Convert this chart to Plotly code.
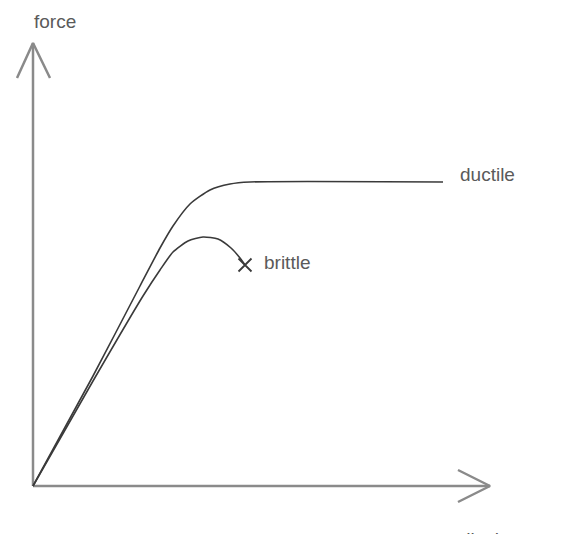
import plotly.graph_objects as go

# ------------------------------------------------------------------
# DATA: sketch of force vs displacement (arbitrary units, origin at 0,0)
# ------------------------------------------------------------------
ductile_disp = [0, 60, 107, 127, 140, 157, 177, 197, 217, 410]
ductile_force = [0, 110, 200, 238, 260, 282, 296, 302, 304, 304]

brittle_disp = [0, 60, 110, 127, 140, 155, 170, 185, 198, 207, 212]
brittle_force = [0, 105, 190, 216, 234, 245, 249, 247, 238, 228, 221]

# axis extents (arrow tip positions)
x_axis_end = 457
y_axis_end = 443
arrow_len = 32
arrow_half = 16

labels = ["ductile", "brittle", "force", "displacement"]

AXIS_COLOR = "#8a8a8a"
CURVE_COLOR = "#3a3a3a"
TEXT_COLOR = "#5a5a5a"
FONT = dict(family="Liberation Sans, Arial, sans-serif", size=19, color=TEXT_COLOR)

fig = go.Figure()

# ---------- axes drawn as open arrows ----------
fig.add_trace(go.Scatter(
    x=[0, x_axis_end, None, x_axis_end - arrow_len, x_axis_end, x_axis_end - arrow_len],
    y=[0, 0, None, arrow_half, 0, -arrow_half],
    mode="lines", line=dict(color=AXIS_COLOR, width=2.5), hoverinfo="skip"))
fig.add_trace(go.Scatter(
    x=[0, 0, None, -arrow_half, 0, arrow_half + 1],
    y=[0, y_axis_end, None, y_axis_end - 35, y_axis_end, y_axis_end - 35],
    mode="lines", line=dict(color=AXIS_COLOR, width=2.5), hoverinfo="skip"))

# ---------- curves ----------
fig.add_trace(go.Scatter(x=ductile_disp, y=ductile_force, mode="lines",
                         line=dict(color=CURVE_COLOR, width=1.6, shape="spline", smoothing=0.6),
                         name="ductile"))
fig.add_trace(go.Scatter(x=brittle_disp, y=brittle_force, mode="lines",
                         line=dict(color=CURVE_COLOR, width=1.6, shape="spline", smoothing=0.6),
                         name="brittle"))
# fracture point
fig.add_trace(go.Scatter(x=[brittle_disp[-1]], y=[brittle_force[-1]], mode="markers",
                         marker=dict(symbol="x-thin-open", size=13, color=CURVE_COLOR,
                                     line=dict(color=CURVE_COLOR, width=1.8))))

# ---------- labels ----------
fig.add_annotation(x=ductile_disp[-1] + 15, y=ductile_force[-1] + 8, text=labels[0],
                   xanchor="left", yanchor="middle", showarrow=False, font=FONT)
fig.add_annotation(x=brittle_disp[-1] + 17, y=brittle_force[-1] + 3, text=labels[1],
                   xanchor="left", yanchor="middle", showarrow=False, font=FONT)
fig.add_annotation(x=22, y=y_axis_end + 22, text=labels[2],
                   xanchor="center", yanchor="middle", showarrow=False, font=FONT)
fig.add_annotation(x=x_axis_end - 32, y=-41, text=labels[3],
                   xanchor="left", yanchor="top", showarrow=False, font=FONT)

# page body has an 8px margin, so the figure is 8px smaller and ranges shifted
fig.update_layout(
    width=575, height=526,
    margin=dict(l=0, r=0, t=0, b=0),
    paper_bgcolor="white", plot_bgcolor="white",
    showlegend=False,
    xaxis=dict(range=[-25, 550], visible=False, fixedrange=True),
    yaxis=dict(range=[-48, 478], visible=False, fixedrange=True),
)

fig.write_html("out.html")
